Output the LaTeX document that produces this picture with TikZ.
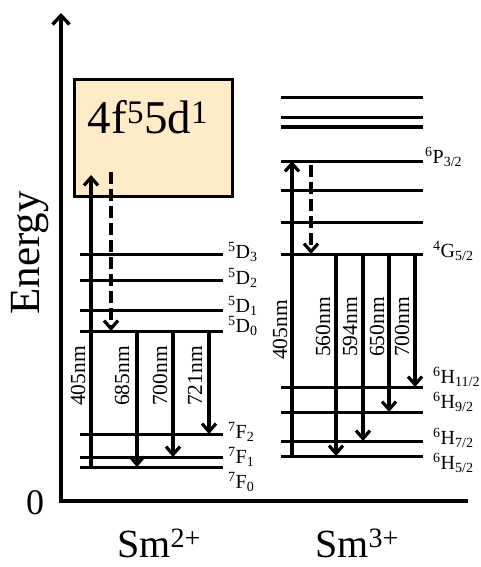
\documentclass[tikz,border=0pt]{standalone}
\usepackage{fontspec}
\setmainfont{Liberation Serif}
\usetikzlibrary{arrows.meta}
\definecolor{boxfill}{RGB}{255,235,200}
\tikzset{
  axis/.style={line width=3.4pt,-{Straight Barb[length=9pt,width=17pt]}},
  level/.style={line width=3pt},
  trans/.style={line width=3.2pt,-{Straight Barb[length=8pt,width=14pt]}},
  relax/.style={trans,dash pattern=on 12pt off 5pt},
  lbl/.style={anchor=west,inner sep=0pt,font=\fontsize{20}{22}\selectfont},
  wl/.style={rotate=90,inner sep=0pt,font=\fontsize{21.5}{23}\selectfont},
  big/.style={inner sep=0pt,font=\fontsize{40}{44}\selectfont}
}
\begin{document}
\begin{tikzpicture}[x=1pt,y=-1pt]
    \useasboundingbox (0,0) rectangle (481,567);

    % axes
    \coordinate (origin) at (61,501);
    \coordinate (ytop) at (61,13);
    \coordinate (xend) at (468,501);
    \draw[axis] (xend) -- (origin) -- (ytop);
    \node[big,rotate=90,font=\fontsize{43}{46}\selectfont] (energy) at (30,253) {Energy};
    \node[big,font=\fontsize{36}{40}\selectfont] (zero) at (35,503) {0};
    \node[big,anchor=base] (sm2) at (159,557) {Sm\textsuperscript{2+}};
    \node[big,anchor=base] (sm3) at (357,557) {Sm\textsuperscript{3+}};

    % Sm2+
    \node[draw,fill=boxfill,line width=3pt,anchor=north west,
          minimum width=158,minimum height=117] (exc) at (73,78) {};
    \node[big,anchor=base,font=\fontsize{47}{50}\selectfont] (exctxt) at (148,133)
        {4f\textsuperscript{5}5d\textsuperscript{1}};
    \foreach \y/\n in {254/D3,280/D2,310/D1,331/D0,434/F2,457/F1,467/F0}
        \draw[level] (80,\y) coordinate (\n) -- (223,\y);
    \node[lbl] at (228,252) {\textsuperscript{5}D\textsubscript{3}};
    \node[lbl] at (228,278) {\textsuperscript{5}D\textsubscript{2}};
    \node[lbl] at (228,306) {\textsuperscript{5}D\textsubscript{1}};
    \node[lbl] at (228,326) {\textsuperscript{5}D\textsubscript{0}};
    \node[lbl] at (228,432) {\textsuperscript{7}F\textsubscript{2}};
    \node[lbl] at (228,457) {\textsuperscript{7}F\textsubscript{1}};
    \node[lbl] at (228,482) {\textsuperscript{7}F\textsubscript{0}};

    \coordinate (pumpA) at (91,175);
    \coordinate (relA) at (111,172);
    \draw[trans] (91,0 |- F0) -- (pumpA);
    \draw[relax] (relA) -- (111,0 |- D0);
    \foreach \x/\n in {137/F0,173/F1,209/F2}
        \draw[trans] (\x,0 |- D0) -- (\x,0 |- \n);
    \node[wl] at (78,376) {405nm};
    \node[wl] at (122,376) {685nm};
    \node[wl] at (160,376) {700nm};
    \node[wl] at (195,376) {721nm};

    % Sm3+
    \foreach \y/\n in {98/U1,118/U2,127/U3,161/P32,190/U4,222/U5,254/G52,
                       387/H112,412/H92,441/H72,456/H52}
        \draw[level] (281,\y) coordinate (\n) -- (423,\y);
    \node[lbl] at (425,157) {\textsuperscript{6}P\textsubscript{3/2}};
    \node[lbl] at (433,251) {\textsuperscript{4}G\textsubscript{5/2}};
    \node[lbl] at (433,377) {\textsuperscript{6}H\textsubscript{11/2}};
    \node[lbl] at (433,402) {\textsuperscript{6}H\textsubscript{9/2}};
    \node[lbl] at (433,438) {\textsuperscript{6}H\textsubscript{7/2}};
    \node[lbl] at (433,463) {\textsuperscript{6}H\textsubscript{5/2}};

    \draw[trans] (292,0 |- H52) -- (292,0 |- P32);
    \draw[relax] (311,165) -- (311,0 |- G52);
    \foreach \x/\n in {336/H52,363/H72,389/H92,415/H112}
        \draw[trans] (\x,0 |- G52) -- (\x,0 |- \n);
    \node[wl] at (280,330) {405nm};
    \node[wl] at (323,327) {560nm};
    \node[wl] at (350,327) {594nm};
    \node[wl] at (377,327) {650nm};
    \node[wl] at (402,327) {700nm};
\end{tikzpicture}
\end{document}
